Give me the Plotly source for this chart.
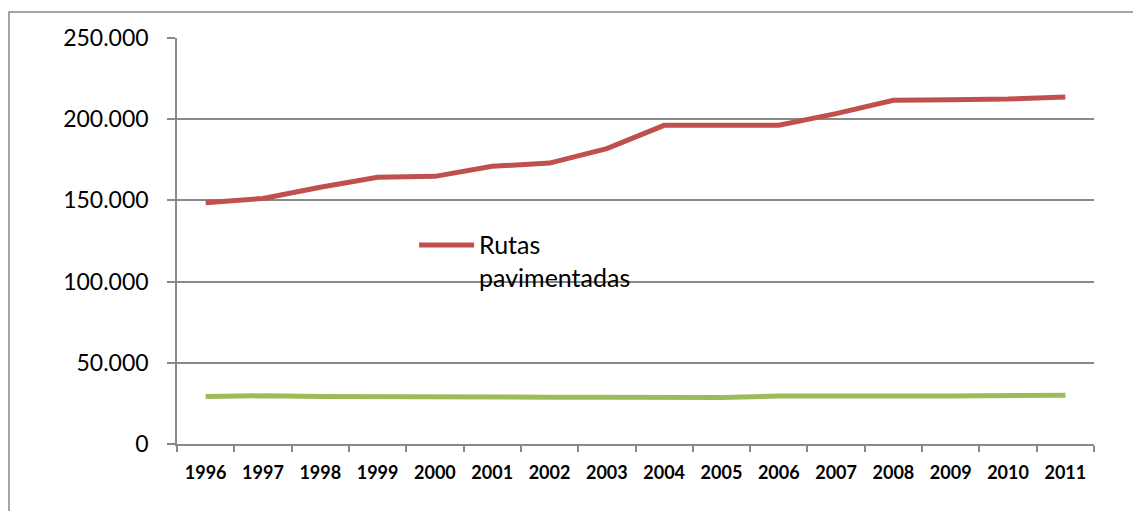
import plotly.graph_objects as go

years = [str(y) for y in range(1996, 2012)]
rutas_pavimentadas = [148600, 151200, 158100, 164300, 164800, 171000, 173000, 181900,
                      196200, 196300, 196300, 203400, 211600, 212000, 212400, 213700]
rutas_otras = [29200, 29700, 29300, 29000, 29000, 29000, 28800, 28800,
               28700, 28700, 29500, 29800, 29600, 29600, 29600, 30000]
y_ticks = [0, 50000, 100000, 150000, 200000, 250000]
y_labels = ["0", "50.000", "100.000", "150.000", "200.000", "250.000"]

RED = "#C0504D"
GREEN = "#9BBB59"
GRID = "#898989"
FONT = "Lato"

fig = go.Figure()
fig.add_trace(go.Scatter(x=years, y=rutas_pavimentadas, mode="lines",
                         name="Rutas pavimentadas",
                         line=dict(color=RED, width=5), showlegend=False))
fig.add_trace(go.Scatter(x=years, y=rutas_otras, mode="lines",
                         name="Rutas",
                         line=dict(color=GREEN, width=5), showlegend=False))

# legend drawn by hand (long key line, text wrapped on two lines)
fig.add_shape(type="line", xref="paper", yref="paper",
              x0=0.264, x1=0.324, y0=0.490, y1=0.490,
              line=dict(color=RED, width=5))
fig.add_annotation(xref="paper", yref="paper", x=0.327, y=0.535,
                   xanchor="left", yanchor="top", align="left",
                   text="Rutas<br>pavimentadas", showarrow=False,
                   font=dict(family=FONT, size=25, color="black"))

# outer chart border
fig.add_shape(type="rect", xref="paper", yref="paper",
              x0=-0.1832, x1=1.3, y0=-0.5, y1=1.064,
              line=dict(color=GRID, width=1.5), layer="below")

# page body has an 8px margin, so the figure is a bit smaller than the window
fig.update_layout(
    width=1133, height=503,
    margin=dict(l=169, r=47, t=30, b=67),
    plot_bgcolor="white", paper_bgcolor="white",
    font=dict(family=FONT, color="black"),
    showlegend=False,
)
fig.update_xaxes(
    type="category", range=[-0.5, 15.5], automargin=False, showgrid=False,
    showline=True, linecolor=GRID, linewidth=1.5,
    ticks="outside", tickson="boundaries", ticklen=6, tickcolor=GRID, tickwidth=1.5,
    tickfont=dict(family=FONT, size=18, color="black", weight="bold"),
    ticklabelstandoff=12,
)
fig.update_yaxes(
    range=[0, 250000], automargin=False, tickvals=y_ticks, ticktext=y_labels,
    showgrid=True, gridcolor=GRID, gridwidth=1.5,
    showline=True, linecolor=GRID, linewidth=1.5, zeroline=False,
    ticks="outside", ticklen=8, tickcolor=GRID, tickwidth=1.5,
    tickfont=dict(family=FONT, size=23, color="black"),
    ticklabelstandoff=14,
)

fig.write_html("out.html")
